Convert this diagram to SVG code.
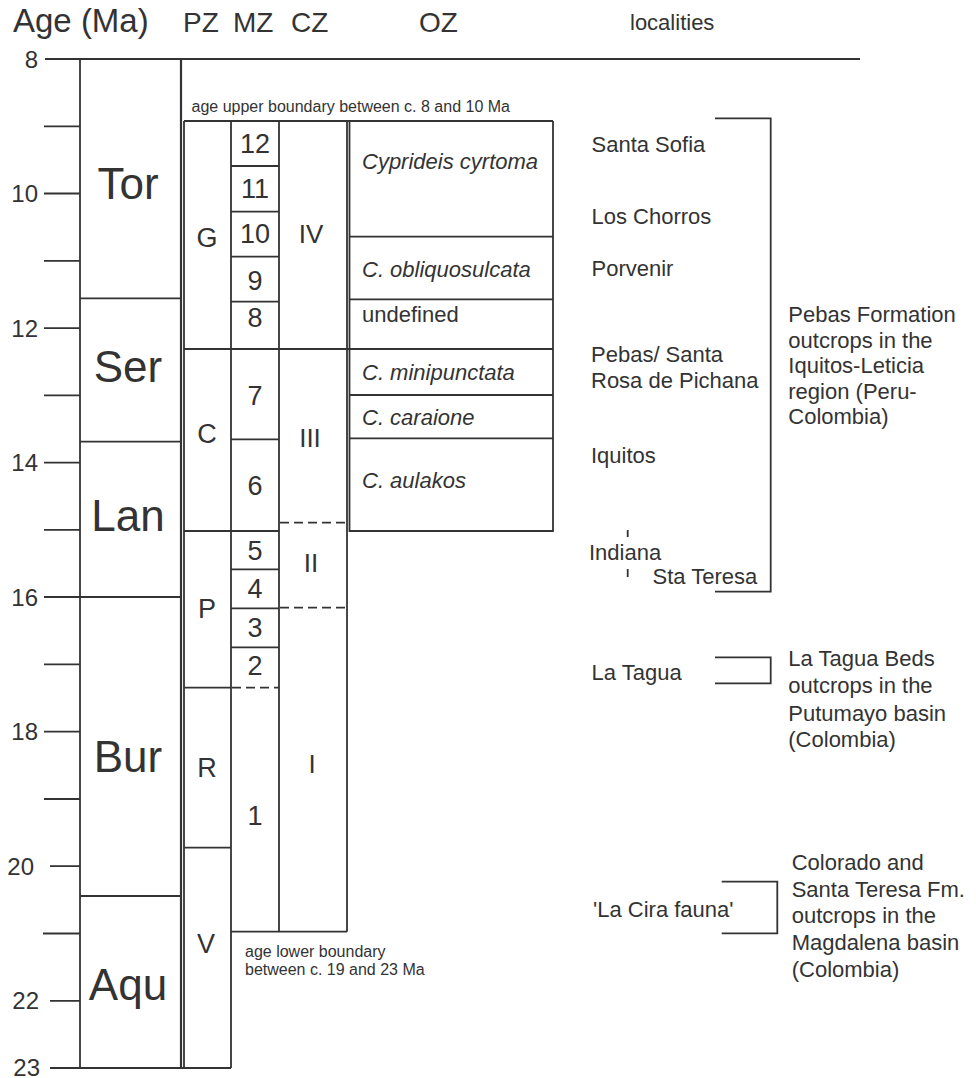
<svg xmlns="http://www.w3.org/2000/svg" width="976" height="1078" viewBox="0 0 976 1078">
<style>
  text { font-family: "Liberation Sans", Arial, sans-serif; fill: #333; }
  .ln { stroke: #333; stroke-width: 1.8; fill: none; }
  .thk { stroke: #333; stroke-width: 2.2; fill: none; }
  .dash { stroke: #333; stroke-width: 1.8; fill: none; stroke-dasharray: 9 5; }
  .hdr { font-size: 28px; }
  .ax { font-size: 24px; text-anchor: end; }
  .stage { font-size: 44px; text-anchor: middle; }
  .pz { font-size: 27px; text-anchor: middle; }
  .mz { font-size: 27px; text-anchor: middle; }
  .cz { font-size: 26px; text-anchor: middle; }
  .oz { font-size: 22px; }
  .it { font-style: italic; }
  .loc { font-size: 22px; }
  .note { font-size: 16px; }
</style>
<rect width="976" height="1078" fill="#fff"/>

<g id="header">
  <text x="13" y="32" font-size="33">Age (Ma)</text>
  <text class="hdr" x="183" y="32">PZ</text>
  <text class="hdr" x="233" y="32">MZ</text>
  <text class="hdr" x="291" y="32">CZ</text>
  <text class="hdr" x="419" y="32">OZ</text>
  <text x="630" y="30" font-size="22">localities</text>
</g>

<g id="axis">
  <path class="thk" d="M45 59 H860"/>
  <path class="ln" d="M80 59 V1068"/>
  <path class="ln" d="M44 126.3 H80 M44 193.5 H80 M44 260.8 H80 M44 328.1 H80 M44 395.4 H80 M44 462.6 H80 M44 529.9 H80 M44 597 H80 M44 664.4 H80 M44 731.7 H80 M44 799 H80 M50 866.2 H80 M43 933.5 H80 M50 1000.8 H80"/>
  <path class="ln" d="M50 1068 H231"/>
  <text class="ax" x="38" y="67.5">8</text>
  <text class="ax" x="38" y="202">10</text>
  <text class="ax" x="38" y="336.5">12</text>
  <text class="ax" x="38" y="471">14</text>
  <text class="ax" x="38" y="605.5">16</text>
  <text class="ax" x="38" y="740">18</text>
  <text class="ax" x="34" y="874.5">20</text>
  <text class="ax" x="39" y="1009">22</text>
  <text class="ax" x="40" y="1076">23</text>
</g>

<g id="stages">
  <path class="thk" d="M181 59 V1068"/>
  <path class="ln" d="M80 298.3 H181 M80 441.7 H181 M80 597 H181 M80 896 H181"/>
  <text class="stage" x="128" y="199">Tor</text>
  <text class="stage" x="128" y="382">Ser</text>
  <text class="stage" x="128" y="531">Lan</text>
  <text class="stage" x="128" y="772">Bur</text>
  <text class="stage" x="128" y="1000">Aqu</text>
</g>

<g id="upper-note">
  <text class="note" x="191.5" y="111.5">age upper boundary between c. 8 and 10 Ma</text>
</g>

<g id="pz">
  <path class="ln" d="M184 121 V1068 M231 121 V1068"/>
  <path class="ln" d="M184 121 H553"/>
  <path class="ln" d="M184 349 H553"/>
  <path class="ln" d="M184 531 H279"/>
  <path class="ln" d="M184 687.7 H231"/>
  <path class="ln" d="M184 847.7 H231"/>
  <text class="pz" x="207" y="247">G</text>
  <text class="pz" x="207" y="443">C</text>
  <text class="pz" x="207" y="618">P</text>
  <text class="pz" x="207" y="777">R</text>
  <text class="pz" x="206" y="953">V</text>
</g>

<g id="mz">
  <path class="ln" d="M279 121 V931.7 M231 931.7 H347"/>
  <path class="ln" d="M231 166 H279 M231 211.7 H279 M231 256.7 H279 M231 301.7 H279 M231 439.3 H279 M231 569.3 H279 M231 608.3 H279 M231 647.3 H279"/>
  <path class="dash" d="M232 687.7 H279"/>
  <text class="mz" x="255" y="153">12</text>
  <text class="mz" x="255" y="198">11</text>
  <text class="mz" x="255" y="243">10</text>
  <text class="mz" x="255" y="290">9</text>
  <text class="mz" x="255" y="327">8</text>
  <text class="mz" x="255" y="405">7</text>
  <text class="mz" x="255" y="495">6</text>
  <text class="mz" x="255" y="560">5</text>
  <text class="mz" x="255" y="598">4</text>
  <text class="mz" x="255" y="637">3</text>
  <text class="mz" x="255" y="675">2</text>
  <text class="mz" x="255" y="825">1</text>
</g>

<g id="cz">
  <path class="ln" d="M347 121 V931.7"/>
  <path class="dash" d="M280 522.7 H347 M280 607.7 H347"/>
  <text class="cz" x="311" y="243">IV</text>
  <text class="cz" x="310" y="447">III</text>
  <text class="cz" x="311" y="572">II</text>
  <text class="cz" x="312" y="773">I</text>
</g>

<g id="oz">
  <path class="ln" d="M349.5 121 V531 H553 V121"/>
  <path class="ln" d="M349.5 236.7 H553 M349.5 299.3 H553 M349.5 395 H553 M349.5 438.3 H553"/>
  <text class="oz it" x="362" y="169">Cyprideis cyrtoma</text>
  <text class="oz it" x="362" y="277">C. obliquosulcata</text>
  <text class="oz" x="362" y="321.5">undefined</text>
  <text class="oz it" x="362" y="380">C. minipunctata</text>
  <text class="oz it" x="362" y="425">C. caraione</text>
  <text class="oz it" x="362" y="488">C. aulakos</text>
</g>

<g id="lower-note">
  <text class="note" x="245" y="957">age lower boundary</text>
  <text class="note" x="245" y="975">between c. 19 and 23 Ma</text>
</g>

<g id="localities">
  <text class="loc" x="591.5" y="152">Santa Sofia</text>
  <text class="loc" x="591.5" y="224">Los Chorros</text>
  <text class="loc" x="591.5" y="276">Porvenir</text>
  <text class="loc" x="591" y="362">Pebas/ Santa</text>
  <text class="loc" x="591" y="387.5">Rosa de Pichana</text>
  <text class="loc" x="591" y="462.5">Iquitos</text>
  <path class="ln" d="M627.7 530 V537 M627.7 569 V577"/>
  <text class="loc" x="589" y="559.5">Indiana</text>
  <text class="loc" x="652.5" y="584">Sta Teresa</text>
  <text class="loc" x="591.5" y="680">La Tagua</text>
  <text class="loc" x="593" y="916.5">'La Cira fauna'</text>
</g>

<g id="connectors">
  <path class="ln" d="M715 118.3 H770.7 V591.7 H715"/>
  <path class="ln" d="M715 657.3 H770.7 V683.3 H715"/>
  <path class="ln" d="M721.7 881.7 H777.3 V933.3 H721.7"/>
</g>

<g id="pebas">
  <text class="loc" x="788.3" y="322.3">Pebas Formation</text>
  <text class="loc" x="788.3" y="347.7">outcrops in the</text>
  <text class="loc" x="788.3" y="373.3">Iquitos-Leticia</text>
  <text class="loc" x="788.3" y="399">region (Peru-</text>
  <text class="loc" x="788.3" y="424.3">Colombia)</text>
</g>

<g id="latagua">
  <text class="loc" x="788.3" y="666">La Tagua Beds</text>
  <text class="loc" x="788.3" y="693.3">outcrops in the</text>
  <text class="loc" x="788.3" y="720.7">Putumayo basin</text>
  <text class="loc" x="788.3" y="747.3">(Colombia)</text>
</g>

<g id="colorado">
  <text class="loc" x="791.7" y="870">Colorado and</text>
  <text class="loc" x="791.7" y="896.7">Santa Teresa Fm.</text>
  <text class="loc" x="791.7" y="923.3">outcrops in the</text>
  <text class="loc" x="791.7" y="950">Magdalena basin</text>
  <text class="loc" x="791.7" y="976.7">(Colombia)</text>
</g>
</svg>
